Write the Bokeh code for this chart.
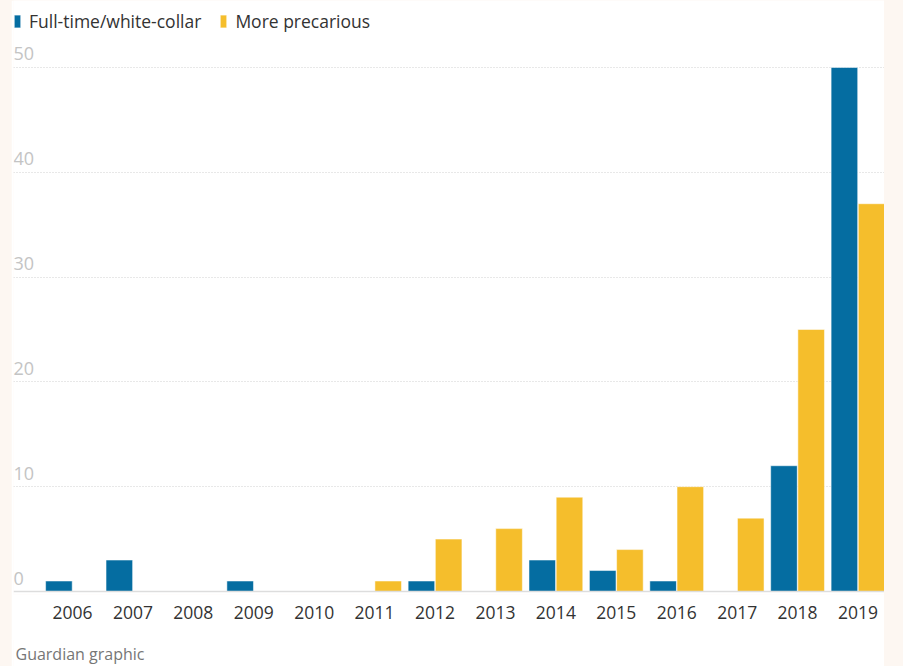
from bokeh.plotting import figure
from bokeh.models import (ColumnDataSource, FixedTicker, Legend, LegendItem, Span)
from bokeh.transform import dodge
from bokeh.layouts import column
from bokeh.core.properties import value
from bokeh.embed import file_html
from bokeh.resources import INLINE

years = [2006, 2007, 2008, 2009, 2010, 2011, 2012, 2013, 2014, 2015, 2016, 2017, 2018, 2019]
year_labels = [str(y) for y in years]
full_time = [1, 3, 0, 1, 0, 0, 1, 0, 3, 2, 1, 0, 12, 50]
precarious = [0, 0, 0, 0, 0, 1, 5, 6, 9, 4, 10, 7, 25, 37]
y_ticks = [0, 10, 20, 30, 40, 50]
y_tick_labels = ["0", "10", "20", "30", "40", "50"]
series_names = ["Full-time/white-collar", "More precarious"]
source_note = "Guardian graphic"

BLUE = "#056da1"
YELLOW = "#f5be2c"
FONT = "Open Sans"

src = ColumnDataSource(dict(year=years, full=full_time, prec=precarious))

X0, X1 = 2005.0235, 2019.4386
Y0, Y1 = -0.286, 56.39
FIG_H = 640
FRAME_BOTTOM = 594
NOTE_H = 28

p = figure(width=873, height=FIG_H, x_range=(X0, X1), y_range=(Y0, Y1),
           output_backend="svg", toolbar_location=None,
           min_border_left=2, min_border_right=0, min_border_top=0,
           min_border_bottom=FIG_H - FRAME_BOTTOM)
p.margin = (0, 19, 0, 11)
p.outline_line_color = None
p.background_fill_color = "white"
p.border_fill_color = "white"

bw = 0.44
r1 = p.vbar(x=dodge("year", -0.225, range=p.x_range), top="full", width=bw, bottom=0,
            source=src, fill_color=BLUE, line_color="white", line_alpha=0.5, line_width=1)
r2 = p.vbar(x=dodge("year", 0.225, range=p.x_range), top="prec", width=bw, bottom=0,
            source=src, fill_color=YELLOW, line_color="white", line_alpha=0.5, line_width=1)

# grid
p.xgrid.visible = False
p.ygrid.ticker = FixedTicker(ticks=y_ticks[1:])
p.ygrid.grid_line_color = "#d0d0d0"
p.ygrid.grid_line_dash = "1 2"
p.ygrid.grid_line_width = 1
zero = Span(location=0, dimension="width", line_color="#dddddd", line_width=1.5)
p.add_layout(zero)

# y labels above gridlines
ysrc = ColumnDataSource(dict(x=[X0] * len(y_ticks), y=y_ticks, t=y_tick_labels))
p.text(x="x", y="y", text="t", source=ysrc, text_align="left", text_baseline="bottom",
       y_offset=-7, text_font=value(FONT), text_font_size="18px", text_color="#c4c4c4")

p.yaxis.visible = False

# x axis
p.xaxis.ticker = FixedTicker(ticks=years)
p.xaxis.major_label_overrides = {y: l for y, l in zip(years, year_labels)}
p.xaxis.axis_line_color = None
p.xaxis.major_tick_line_color = None
p.xaxis.minor_tick_line_color = None
p.xaxis.major_tick_out = 0
p.xaxis.major_tick_in = 0
p.xaxis.major_label_standoff = 11
p.xaxis.major_label_text_font = FONT
p.xaxis.major_label_text_font_size = "17.5px"
p.xaxis.major_label_text_color = "#333333"

# legend
legend = Legend(items=[LegendItem(label=series_names[0], renderers=[r1]),
                       LegendItem(label=series_names[1], renderers=[r2])],
                orientation="horizontal", location=(0, FRAME_BOTTOM - 15 - 18),
                glyph_width=8, glyph_height=16, label_height=18, label_standoff=8,
                spacing=18, padding=0, margin=0,
                background_fill_alpha=0, border_line_color=None,
                label_text_font=FONT, label_text_font_size="17.5px",
                label_text_color="#333333")
p.add_layout(legend)

# source note strip (overlaps main figure by 2px to hide the seam)
p2 = figure(width=873, height=NOTE_H, x_range=(0, 873), y_range=(0, NOTE_H),
            output_backend="svg", toolbar_location=None, min_border=0)
p2.margin = (-2, 19, 0, 11)
p2.outline_line_color = None
p2.background_fill_color = "white"
p2.border_fill_color = "white"
p2.axis.visible = False
p2.grid.visible = False
nsrc = ColumnDataSource(dict(x=[2], y=[NOTE_H - 15], t=[source_note]))
p2.text(x="x", y="y", text="t", source=nsrc, text_align="left", text_baseline="middle",
        text_font=value(FONT), text_font_size="16px", text_color="#767676")

lay = column(p, p2, spacing=0, styles={"background-color": "#fdf7f2"})

open("out.html", "w").write(file_html(lay, INLINE))
